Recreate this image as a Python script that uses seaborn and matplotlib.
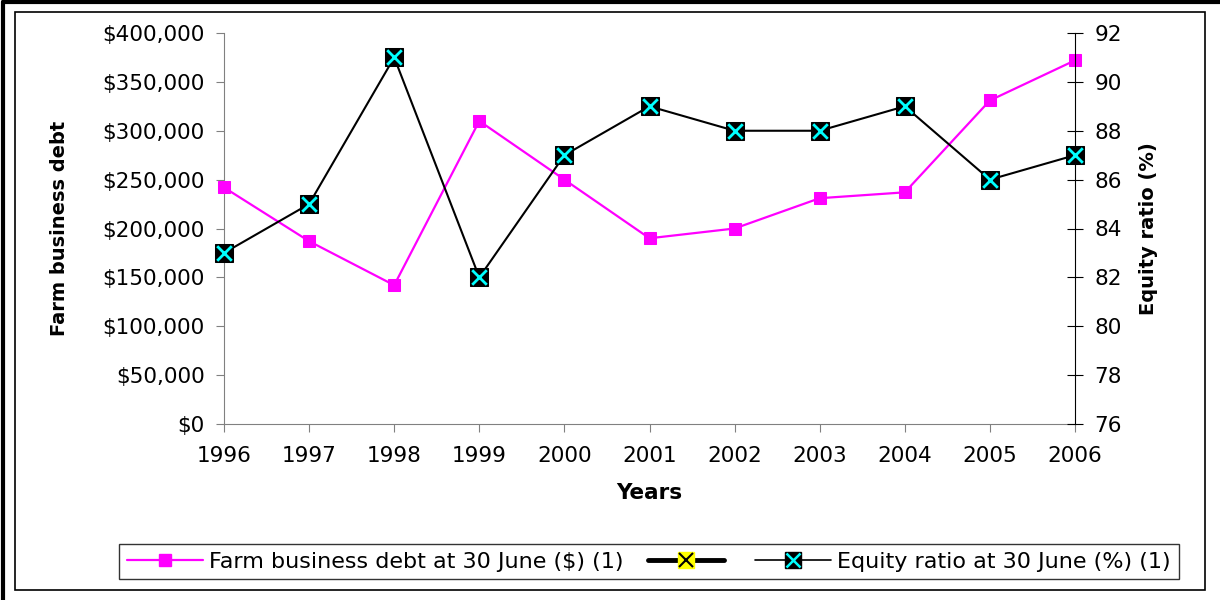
import numpy as np
import pandas as pd
import matplotlib
matplotlib.use("Agg")
import matplotlib.pyplot as plt
from matplotlib.lines import Line2D
from matplotlib.patches import Rectangle
from matplotlib.legend_handler import HandlerTuple
from matplotlib.ticker import FuncFormatter
import seaborn as sns

# dados
anos = [1996, 1997, 1998, 1999, 2000, 2001, 2002, 2003, 2004, 2005, 2006]
divida = [242000, 187000, 142000, 310000, 250000, 190000, 200000, 231000, 237000, 331000, 372000]
equity = [83, 85, 91, 82, 87, 89, 88, 88, 89, 86, 87]

label_divida = "Farm business debt at 30 June ($) (1)"
label_equity = "Equity ratio at 30 June (%) (1)"

df = pd.DataFrame({"Ano": anos, "Divida": divida, "Equity": equity})

sns.set_style("white")
plt.rcParams["font.family"] = ["DejaVu Sans"]
plt.rcParams["text.color"] = "black"
plt.rcParams["axes.labelcolor"] = "black"
plt.rcParams["xtick.color"] = "black"
plt.rcParams["ytick.color"] = "black"

fig = plt.figure(figsize=(12.2, 6), dpi=100)
ax = fig.add_axes([224 / 1220, 1 - 424 / 600, (1075 - 224) / 1220, (424 - 33) / 600])
ax2 = ax.twinx()

sns.lineplot(data=df, x="Ano", y="Divida", ax=ax, color="#FF00FF", linewidth=1.6,
             marker="s", markersize=9, markeredgecolor="#FF00FF", clip_on=False, zorder=3)

sns.lineplot(data=df, x="Ano", y="Equity", ax=ax2, color="black", linewidth=1.5,
             marker="s", markersize=13.5, markeredgecolor="black", clip_on=False, zorder=3)
sns.scatterplot(data=df, x="Ano", y="Equity", ax=ax2, marker="x", color="#00FFFF",
                s=110, linewidth=2, clip_on=False, zorder=4)

ax.set_xlim(1996, 2006)
ax.set_ylim(0, 400000)
ax2.set_ylim(76, 92)
ax.set_xticks(anos)
ax.set_yticks(np.arange(0, 400001, 50000))
ax2.set_yticks(np.arange(76, 93, 2))
ax.yaxis.set_major_formatter(FuncFormatter(lambda v, p: f"${v:,.0f}"))

for s in ["top", "right"]:
    ax.spines[s].set_visible(False)
for s in ["top", "left", "bottom"]:
    ax2.spines[s].set_visible(False)
ax.spines["left"].set_color("#808080")
ax.spines["bottom"].set_color("#808080")
ax2.spines["right"].set_color("black")

ax.tick_params(axis="y", direction="out", length=6, color="#808080", labelsize=15.5, pad=8, left=True)
ax.tick_params(axis="x", direction="out", length=6, color="#808080", labelsize=15.5, pad=10, bottom=True)
ax2.tick_params(axis="y", direction="inout", length=12, color="black", labelsize=15.5, pad=8, right=True)

ax.set_xlabel("Years", fontsize=15.5, fontweight="bold", labelpad=12)
ax.set_ylabel("Farm business debt", fontsize=14, fontweight="bold", labelpad=24)
ax2.set_ylabel("Equity ratio (%)", fontsize=14, fontweight="bold", labelpad=12)

# legenda
h1 = Line2D([], [], color="#FF00FF", lw=1.6, marker="s", ms=9, mec="#FF00FF")
h2 = (Line2D([], [], color="black", lw=3.5, marker="s", ms=12, mfc="yellow", mec="yellow"),
      Line2D([], [], ls="none", marker="x", ms=10, mew=1.5, color="black"))
h3 = (Line2D([], [], color="black", lw=1.2, marker="s", ms=12, mfc="black", mec="black"),
      Line2D([], [], ls="none", marker="x", ms=10, mew=1.8, color="#00FFFF"))
leg = fig.legend([h1, h2, h3], [label_divida, "", label_equity], ncol=3, loc="center",
                 bbox_to_anchor=(0.532, 0.064), fontsize=16, frameon=True, fancybox=False,
                 handlelength=3.4, handletextpad=0.3, columnspacing=1.1, borderpad=0.35,
                 handler_map={tuple: HandlerTuple(ndivide=1)})
leg.get_frame().set_edgecolor("black")
leg.get_frame().set_linewidth(1.0)

# molduras
fig.patches.append(Rectangle((15 / 1220, 1 - 590 / 600), 1190 / 1220, 578 / 600,
                             transform=fig.transFigure, fill=False, edgecolor="black", linewidth=1.2))
fig.lines.append(Line2D([3 / 1220, 3 / 1220], [0, 1 - 2 / 600], transform=fig.transFigure,
                        color="black", linewidth=3))
fig.lines.append(Line2D([3 / 1220, 1], [1 - 2 / 600, 1 - 2 / 600], transform=fig.transFigure,
                        color="black", linewidth=3))

fig.savefig("out.png", dpi=100)
